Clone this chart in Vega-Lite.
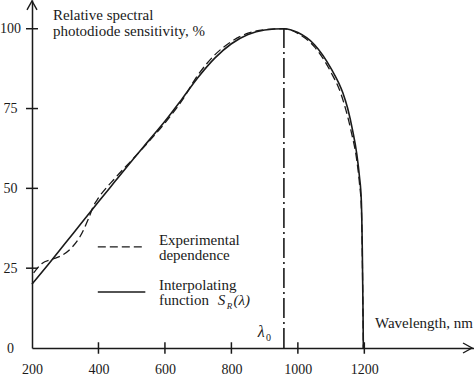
{
  "$schema": "https://vega.github.io/schema/vega-lite/v6.json",
  "width": 442,
  "height": 348,
  "autosize": {"type": "none"},
  "padding": {"left": 32, "top": 0, "right": 0, "bottom": 31},
  "config": {"view": {"stroke": null}, "font": "'Liberation Serif', 'DejaVu Serif', serif",
    "text": {"font": "'Liberation Serif', 'DejaVu Serif', serif"},
    "axis": {"labelFont": "'Liberation Serif', 'DejaVu Serif', serif"}},
  "datasets": {
    "interp": [
      {"nm": 200, "s": 20}, {"nm": 250, "s": 26.3}, {"nm": 300, "s": 32.8}, {"nm": 350, "s": 39.3},
      {"nm": 400, "s": 45.8}, {"nm": 450, "s": 52.2}, {"nm": 500, "s": 58.6}, {"nm": 550, "s": 64.8},
      {"nm": 600, "s": 71}, {"nm": 650, "s": 77.8}, {"nm": 700, "s": 84.8}, {"nm": 750, "s": 90.8},
      {"nm": 800, "s": 95.3}, {"nm": 850, "s": 98.2}, {"nm": 900, "s": 99.6}, {"nm": 958, "s": 100},
      {"nm": 1000, "s": 98.8}, {"nm": 1050, "s": 95}, {"nm": 1100, "s": 87.5}, {"nm": 1135, "s": 80},
      {"nm": 1150, "s": 75}, {"nm": 1165, "s": 68}, {"nm": 1177, "s": 61}, {"nm": 1185, "s": 54},
      {"nm": 1191, "s": 46}, {"nm": 1194, "s": 30}, {"nm": 1196, "s": 12}, {"nm": 1197, "s": 0}
    ],
    "exper": [
      {"nm": 205, "s": 23.5}, {"nm": 230, "s": 26.5}, {"nm": 260, "s": 27.8}, {"nm": 290, "s": 29},
      {"nm": 320, "s": 31.5}, {"nm": 345, "s": 35}, {"nm": 370, "s": 40.5}, {"nm": 385, "s": 44.5},
      {"nm": 400, "s": 47}, {"nm": 450, "s": 53.2}, {"nm": 500, "s": 58.8}, {"nm": 550, "s": 64.5},
      {"nm": 600, "s": 70.5}, {"nm": 650, "s": 77.3}, {"nm": 700, "s": 85.6}, {"nm": 750, "s": 91.8},
      {"nm": 800, "s": 96}, {"nm": 850, "s": 98.6}, {"nm": 900, "s": 99.7}, {"nm": 958, "s": 100},
      {"nm": 1000, "s": 98.5}, {"nm": 1050, "s": 94.3}, {"nm": 1100, "s": 86.3}, {"nm": 1130, "s": 79.5},
      {"nm": 1160, "s": 68}, {"nm": 1177, "s": 59}, {"nm": 1185, "s": 52}, {"nm": 1191, "s": 44},
      {"nm": 1194, "s": 28}, {"nm": 1196, "s": 10}, {"nm": 1197, "s": 0}
    ],
    "xticks": [{"v": 400}, {"v": 600}, {"v": 800}, {"v": 1000}, {"v": 1200}],
    "yticks": [{"v": 25}, {"v": 50}, {"v": 75}, {"v": 100}]
  },
  "layer": [
    {
      "data": {"name": "interp"},
      "mark": {"type": "line", "interpolate": "monotone", "color": "#1a1a1a", "strokeWidth": 1.6},
      "encoding": {
        "x": {"field": "nm", "type": "quantitative", "scale": {"domain": [200, 1530], "nice": false, "zero": false},
          "axis": {"title": null, "values": [200, 400, 600, 800, 1000, 1200], "format": "d", "ticks": false, "tickSize": 0, "grid": false,
            "labelPadding": 14, "labelFont": "'Liberation Serif', 'DejaVu Serif', serif", "labelFontSize": 14, "labelColor": "#1a1a1a",
            "labelFlush": false, "labelOverlap": false, "domainColor": "#1a1a1a", "domainWidth": 1.5}},
        "y": {"field": "s", "type": "quantitative", "scale": {"domain": [0, 109], "nice": false, "zero": false},
          "axis": {"title": null, "values": [0, 25, 50, 75, 100], "format": "d", "ticks": false, "tickSize": 0, "grid": false,
            "labelPadding": 22, "labelAlign": "center", "labelBaseline": "middle", "labelFont": "'Liberation Serif', 'DejaVu Serif', serif", "labelFontSize": 14,
            "labelColor": "#1a1a1a", "labelFlush": false, "labelOverlap": false, "domainColor": "#1a1a1a", "domainWidth": 1.5}}
      }
    },
    {
      "data": {"name": "exper"},
      "mark": {"type": "line", "interpolate": "monotone", "color": "#1a1a1a", "strokeWidth": 1.3, "strokeDash": [8, 4]},
      "encoding": {
        "x": {"field": "nm", "type": "quantitative"},
        "y": {"field": "s", "type": "quantitative"}
      }
    },
    {
      "data": {"name": "xticks"},
      "mark": {"type": "rule", "color": "#1a1a1a", "strokeWidth": 1.5},
      "encoding": {
        "x": {"field": "v", "type": "quantitative"},
        "y": {"datum": -1.8},
        "y2": {"datum": 1.8}
      }
    },
    {
      "data": {"name": "yticks"},
      "mark": {"type": "rule", "color": "#1a1a1a", "strokeWidth": 1.5},
      "encoding": {
        "y": {"field": "v", "type": "quantitative"},
        "x": {"datum": 182},
        "x2": {"datum": 218}
      }
    },
    {
      "data": {"values": [{}]},
      "mark": {"type": "rule", "color": "#1a1a1a", "strokeWidth": 1.6, "strokeDash": [20, 4, 2, 4]},
      "encoding": {"x": {"datum": 958}, "y": {"datum": 0}, "y2": {"datum": 100}}
    },
    {
      "data": {"values": [{}]},
      "mark": {"type": "rule", "color": "#1a1a1a", "strokeWidth": 1.3, "strokeDash": [8, 4]},
      "encoding": {"x": {"datum": 398}, "x2": {"datum": 541}, "y": {"datum": 31.66}}
    },
    {
      "data": {"values": [{}]},
      "mark": {"type": "rule", "color": "#1a1a1a", "strokeWidth": 1.6},
      "encoding": {"x": {"datum": 398}, "x2": {"datum": 541}, "y": {"datum": 17.55}}
    },
    {
      "data": {"values": [{}]},
      "mark": {"type": "point", "shape": "M-1,1.8L0,0L1,1.8", "size": 100, "filled": false, "stroke": "#1a1a1a", "strokeWidth": 1.4, "opacity": 1},
      "encoding": {"x": {"datum": 200}, "y": {"datum": 108.7}}
    },
    {
      "data": {"values": [{}]},
      "mark": {"type": "point", "shape": "M-1.8,-1L0,0L-1.8,1", "size": 100, "filled": false, "stroke": "#1a1a1a", "strokeWidth": 1.4, "opacity": 1},
      "encoding": {"x": {"datum": 1524}, "y": {"datum": 0}}
    },
    {
      "data": {"values": [{}]},
      "mark": {"type": "text", "text": "Relative spectral", "align": "left", "baseline": "alphabetic", "fontSize": 15, "color": "#1a1a1a"},
      "encoding": {"x": {"datum": 263}, "y": {"datum": 102.8}}
    },
    {
      "data": {"values": [{}]},
      "mark": {"type": "text", "text": "photodiode sensitivity, %", "align": "left", "baseline": "alphabetic", "fontSize": 15, "color": "#1a1a1a"},
      "encoding": {"x": {"datum": 263}, "y": {"datum": 97.8}}
    },
    {
      "data": {"values": [{}]},
      "mark": {"type": "text", "text": "Wavelength, nm", "align": "left", "baseline": "alphabetic", "fontSize": 15, "color": "#1a1a1a"},
      "encoding": {"x": {"datum": 1232}, "y": {"datum": 6.3}}
    },
    {
      "data": {"values": [{}]},
      "mark": {"type": "text", "text": "Experimental", "align": "left", "baseline": "alphabetic", "fontSize": 15, "color": "#1a1a1a"},
      "encoding": {"x": {"datum": 582}, "y": {"datum": 32.3}}
    },
    {
      "data": {"values": [{}]},
      "mark": {"type": "text", "text": "dependence", "align": "left", "baseline": "alphabetic", "fontSize": 15, "color": "#1a1a1a"},
      "encoding": {"x": {"datum": 582}, "y": {"datum": 27.6}}
    },
    {
      "data": {"values": [{}]},
      "mark": {"type": "text", "text": "Interpolating", "align": "left", "baseline": "alphabetic", "fontSize": 15, "color": "#1a1a1a"},
      "encoding": {"x": {"datum": 582}, "y": {"datum": 18.2}}
    },
    {
      "data": {"values": [{}]},
      "mark": {"type": "text", "text": "function", "align": "left", "baseline": "alphabetic", "fontSize": 15, "color": "#1a1a1a"},
      "encoding": {"x": {"datum": 582}, "y": {"datum": 13.5}}
    },
    {
      "data": {"values": [{}]},
      "mark": {"type": "text", "text": "S", "align": "left", "baseline": "alphabetic", "fontSize": 15, "fontStyle": "italic", "color": "#1a1a1a"},
      "encoding": {"x": {"datum": 759}, "y": {"datum": 13.5}}
    },
    {
      "data": {"values": [{}]},
      "mark": {"type": "text", "text": "R", "align": "left", "baseline": "alphabetic", "fontSize": 9, "fontStyle": "italic", "color": "#1a1a1a"},
      "encoding": {"x": {"datum": 786}, "y": {"datum": 12.3}}
    },
    {
      "data": {"values": [{}]},
      "mark": {"type": "text", "text": "(λ)", "align": "left", "baseline": "alphabetic", "fontSize": 15, "fontStyle": "italic", "color": "#1a1a1a"},
      "encoding": {"x": {"datum": 806}, "y": {"datum": 13.5}}
    },
    {
      "data": {"values": [{}]},
      "mark": {"type": "text", "text": "λ", "align": "left", "baseline": "alphabetic", "fontSize": 16, "fontStyle": "italic", "color": "#1a1a1a"},
      "encoding": {"x": {"datum": 879}, "y": {"datum": 3.6}}
    },
    {
      "data": {"values": [{}]},
      "mark": {"type": "text", "text": "0", "align": "left", "baseline": "alphabetic", "fontSize": 10, "color": "#1a1a1a"},
      "encoding": {"x": {"datum": 904}, "y": {"datum": 2.2}}
    }
  ]
}
